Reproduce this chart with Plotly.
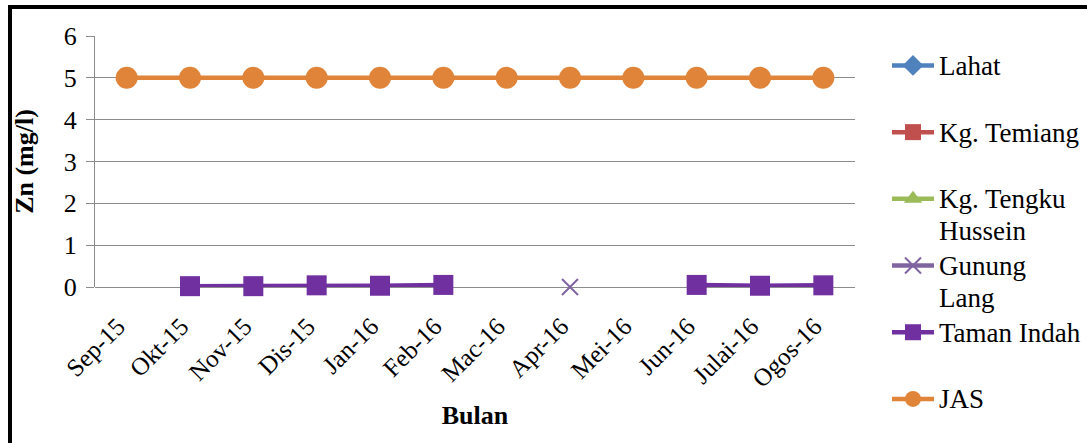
import plotly.graph_objects as go

# Monthly zinc readings (mg/l) per sampling station
months = ["Sep-15", "Okt-15", "Nov-15", "Dis-15", "Jan-16", "Feb-16",
          "Mac-16", "Apr-16", "Mei-16", "Jun-16", "Julai-16", "Ogos-16"]

lahat = [None] * 12
kg_temiang = [None] * 12
kg_tengku_hussein = [None] * 12
gunung_lang = [None, None, None, None, None, None, None, 0.0, None, None, None, None]
taman_indah = [None, 0.02, 0.02, 0.04, 0.03, 0.05, None, None, None, 0.05, 0.03, 0.04]
jas = [5, 5, 5, 5, 5, 5, 5, 5, 5, 5, 5, 5]

y_ticks = [0, 1, 2, 3, 4, 5, 6]
# month labels padded at the end so the slanted text sits under its tick
month_labels = [m + "\u00a0\u00a0" for m in months]

FONT = "Liberation Serif, Times New Roman, serif"
GRID = "#8c8c8c"

W, H = 1087, 443
# the paper area runs down to the bottom edge so the tall legend fits;
# the value axis occupies only the upper part of it
L, R, T, B = 95, 232, 36, 0
PW, PH = W - L - R, H - T - B
AXIS_BOTTOM = 287
Y_DOMAIN = [(H - B - AXIS_BOTTOM) / PH, 1.0]


def px_x(px):
    return (px - L) / PW


def px_y(py):
    return (H - B - py) / PH


def legend_name(*lines, pad=True):
    if len(lines) > 1:
        body = "<br>".join(lines)
    else:
        body = lines[0] + ("<br> " if pad else "")
    return f'<span style="font-size:27px">{body}</span>'


series = [
    (legend_name("Lahat"), lahat, "#4F81BD", "diamond", 16, True),
    (legend_name("Kg. Temiang"), kg_temiang, "#C0504D", "square", 16, True),
    (legend_name("Kg. Tengku", "Hussein"), kg_tengku_hussein, "#9BBB59", "triangle-up", 16, True),
    (legend_name("Gunung", "Lang"), gunung_lang, "#8064A2", "x-thin-open", 16, False),
    (legend_name("Taman Indah"), taman_indah, "#7030A0", "square", 20, True),
    (legend_name("JAS", pad=False), jas, "#E0843A", "circle", 22, True),
]

fig = go.Figure()
for name, vals, color, symbol, size, filled in series:
    fig.add_trace(go.Scatter(
        x=months, y=vals, name=name, mode="lines+markers",
        line=dict(color=color, width=4.5),
        marker=dict(symbol=symbol, size=size, color=color,
                    line=dict(color=color, width=0 if filled else 2)),
        connectgaps=False, cliponaxis=False,
    ))

# outer frame along the top and left edges
fig.add_shape(type="line", xref="paper", yref="paper",
              x0=px_x(10), x1=px_x(10), y0=px_y(7), y1=px_y(450),
              line=dict(color="black", width=4))
fig.add_shape(type="line", xref="paper", yref="paper",
              x0=px_x(8), x1=px_x(1095), y0=px_y(7), y1=px_y(7),
              line=dict(color="black", width=4))

fig.update_layout(
    width=W, height=H,
    margin=dict(l=L, r=R, t=T, b=B, pad=0, autoexpand=False),
    paper_bgcolor="white", plot_bgcolor="white",
    font=dict(family=FONT, size=25, color="black"),
    showlegend=True,
    legend=dict(
        x=px_x(887), xanchor="left", y=px_y(43), yanchor="top",
        font=dict(family=FONT, size=24.5, color="black"),
        valign="top", itemwidth=42, tracegroupgap=0,
        bgcolor="rgba(0,0,0,0)", borderwidth=0,
    ),
    xaxis=dict(
        type="category", categoryorder="array", categoryarray=months,
        tickvals=months, ticktext=month_labels,
        range=[-0.5, 11.5], showgrid=False, zeroline=False,
        showline=False, ticks="", tickangle=-45, anchor="y",
        automargin=False, ticklabelstandoff=10,
        tickfont=dict(family=FONT, size=25, color="black"),
        title=dict(text="<b>Bulan</b>", standoff=14,
                   font=dict(family=FONT, size=26, color="black")),
    ),
    yaxis=dict(
        domain=Y_DOMAIN, automargin=False,
        range=[0, 6], tickvals=y_ticks, ticktext=[str(v) for v in y_ticks],
        showgrid=True, gridcolor=GRID, gridwidth=1.3,
        zeroline=True, zerolinecolor=GRID, zerolinewidth=1.3,
        showline=True, linecolor=GRID, linewidth=1.3,
        ticks="outside", ticklen=8, tickcolor=GRID, tickwidth=1.3,
        ticklabelstandoff=4,
        tickfont=dict(family=FONT, size=26, color="black"),
        title=dict(text="<b>Zn (mg/l)</b>", standoff=22,
                   font=dict(family=FONT, size=26, color="black")),
    ),
)

fig.write_html("out.html")
